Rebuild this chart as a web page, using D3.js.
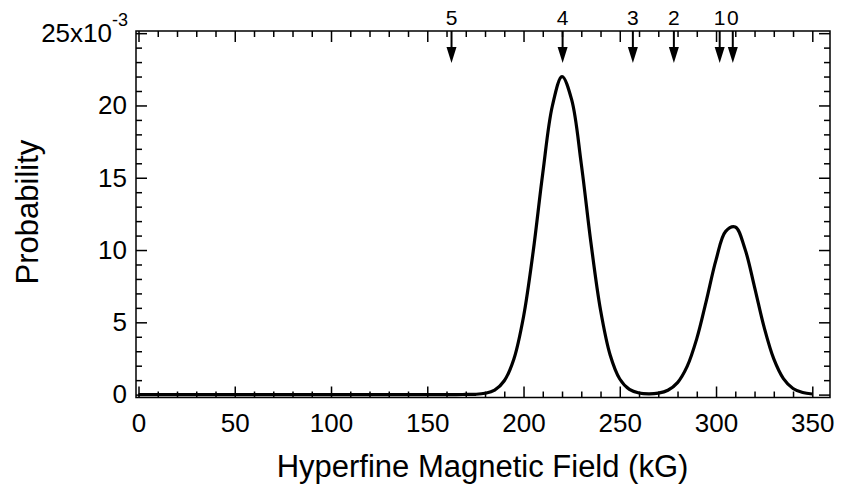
<!DOCTYPE html>
<html>
<head>
<meta charset="UTF-8">
<style>
  body { margin: 0; background: #fff; }
  svg { display: block; }
  text { font-family: 'Liberation Sans', Arial, Helvetica, sans-serif; fill: #000; }
  .axis path { display: none; }
  .axis line { stroke: #000; stroke-width: 1.5px; }
  .axis text { font-size: 26px; }
  #frame { fill: none; stroke: #000; stroke-width: 1.5px; }
  #curve { fill: none; stroke: #000; stroke-width: 3.2px; }
</style>
</head>
<body>
<script src="https://cdn.jsdelivr.net/npm/d3@7"></script>
<script>
// hyperfine field (kG) and probability (x10^-3)
const fields = [0, 25, 50, 75, 100, 125, 150, 165, 170, 175, 180, 185, 190, 195, 200, 205, 210, 215, 220,
  225, 230, 235, 240, 245, 250, 255, 260, 265, 270, 275, 280, 285, 290, 295, 300, 305, 310, 315,
  320, 325, 330, 335, 340, 345, 350];
const probs = [0, 0, 0, 0, 0, 0, 0, 0, 0.01, 0.02, 0.09, 0.31, 0.96, 2.47, 5.39, 9.88, 15.31, 19.98, 22.0,
  20.4, 15.96, 10.52, 5.85, 2.74, 1.08, 0.36, 0.11, 0.05, 0.10, 0.30, 0.83, 1.95, 3.87, 6.52, 9.32, 11.29, 11.59, 10.09,
  7.44, 4.65, 2.47, 1.11, 0.42, 0.14, 0.04];

// arrow markers along the top
const arrowFields = [162.6, 220.3, 256.8, 278.1, 301.9, 308.7];
const arrowLabels = ["5", "4", "3", "2", "1", "0"];

const xMajor = [0, 50, 100, 150, 200, 250, 300, 350];
const yMajor = [0, 5, 10, 15, 20, 25];

let width = 842, height = 493;
let svg = d3.select("body").append("svg")
  .attr("width", width)
  .attr("height", height);

let x = d3.scaleLinear().domain([-1.3, 359.2]).range([136, 830]);
let y = d3.scaleLinear().domain([-0.2, 25.15]).range([397.5, 31]);

let xMinor = d3.range(0, 360, 10).filter(v => v % 50 !== 0);
let yMinor = d3.range(0, 25.5, 1).filter(v => v % 5 !== 0);

// bottom
svg.append("g").attr("class", "axis")
  .attr("transform", "translate(0," + y.range()[0] + ")")
  .call(d3.axisBottom(x).tickValues(xMajor).tickSize(-11).tickPadding(16));
svg.append("g").attr("class", "axis")
  .attr("transform", "translate(0," + y.range()[0] + ")")
  .call(d3.axisBottom(x).tickValues(xMinor).tickSize(-6).tickFormat(""));
// top
svg.append("g").attr("class", "axis")
  .attr("transform", "translate(0," + y.range()[1] + ")")
  .call(d3.axisTop(x).tickValues(xMajor).tickSize(-11).tickFormat(""));
svg.append("g").attr("class", "axis")
  .attr("transform", "translate(0," + y.range()[1] + ")")
  .call(d3.axisTop(x).tickValues(xMinor).tickSize(-6).tickFormat(""));
// left
svg.append("g").attr("class", "axis")
  .attr("transform", "translate(" + x.range()[0] + ",0)")
  .call(d3.axisLeft(y).tickValues(yMajor).tickSize(-11).tickPadding(9)
    .tickFormat(d => d === 25 ? "" : d));
svg.append("g").attr("class", "axis")
  .attr("transform", "translate(" + x.range()[0] + ",0)")
  .call(d3.axisLeft(y).tickValues(yMinor).tickSize(-6).tickFormat(""));
// right
svg.append("g").attr("class", "axis")
  .attr("transform", "translate(" + x.range()[1] + ",0)")
  .call(d3.axisRight(y).tickValues(yMajor).tickSize(-11).tickFormat(""));
svg.append("g").attr("class", "axis")
  .attr("transform", "translate(" + x.range()[1] + ",0)")
  .call(d3.axisRight(y).tickValues(yMinor).tickSize(-6).tickFormat(""));

// top label with exponent
let topLab = svg.append("text")
  .attr("x", x.range()[0] - 8)
  .attr("y", y(25) + 9)
  .attr("text-anchor", "end")
  .style("font-size", "26px");
topLab.append("tspan").text("25x10");
topLab.append("tspan").attr("dy", -16).style("font-size", "18px").text("-3");

svg.append("rect")
  .attr("id", "frame")
  .attr("x", x.range()[0])
  .attr("y", y.range()[1])
  .attr("width", x.range()[1] - x.range()[0])
  .attr("height", y.range()[0] - y.range()[1]);

let line = d3.line()
  .x((d, i) => x(fields[i]))
  .y(d => y(d))
  .curve(d3.curveCatmullRom.alpha(0.5));

svg.append("path")
  .attr("id", "curve")
  .attr("d", line(probs));

// arrows
let arrows = svg.append("g").selectAll("g")
  .data(arrowFields)
  .enter()
  .append("g")
  .attr("transform", d => "translate(" + x(d) + ",0)");
arrows.append("line")
  .attr("y1", y.range()[1])
  .attr("y2", 50)
  .attr("stroke", "#000")
  .attr("stroke-width", 2);
arrows.append("path")
  .attr("d", "M-5,47L5,47L0,63Z")
  .attr("fill", "#000");
arrows.append("text")
  .attr("y", 25)
  .attr("text-anchor", "middle")
  .style("font-size", "21px")
  .text((d, i) => arrowLabels[i]);

// axis titles
svg.append("text")
  .attr("x", 482.5)
  .attr("y", 477)
  .attr("text-anchor", "middle")
  .style("font-size", "31px")
  .text("Hyperfine Magnetic Field (kG)");

svg.append("text")
  .attr("transform", "translate(37.5,212) rotate(-90)")
  .attr("text-anchor", "middle")
  .style("font-size", "31px")
  .text("Probability");
</script>
</body>
</html>
